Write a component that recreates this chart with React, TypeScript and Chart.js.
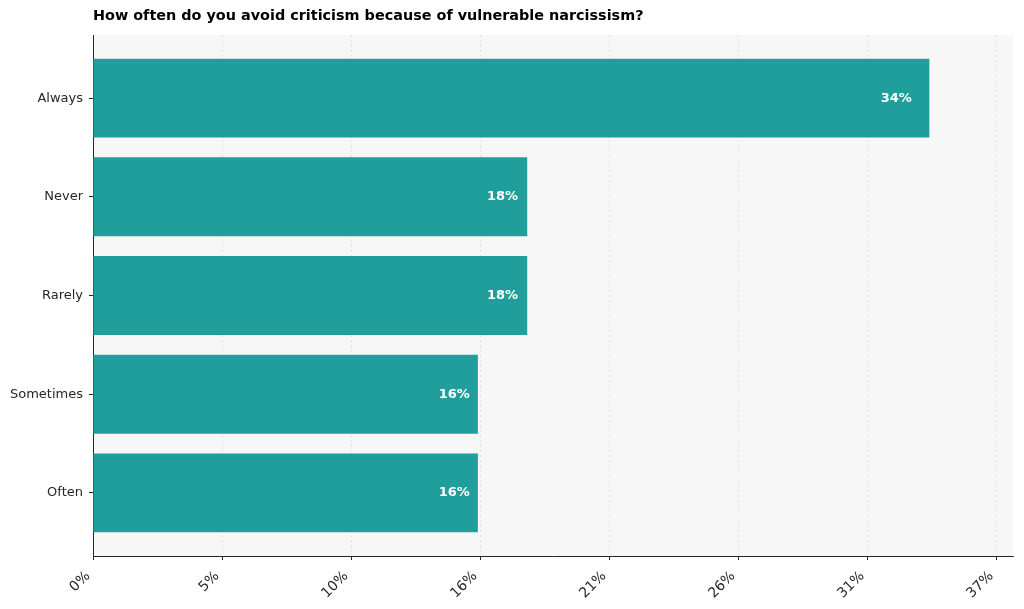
import React, {useEffect, useRef} from 'react'
import {Chart, registerables} from 'chart.js'

Chart.register(...registerables)

const title = 'How often do you avoid criticism because of vulnerable narcissism?'
const categories = ['Always', 'Never', 'Rarely', 'Sometimes', 'Often']
const shares = [33.9, 17.6, 17.6, 15.6, 15.6]
const tickCount = 8

const font = 'DejaVu Sans'
const barColor = '#1f9e9b'

const maxShare = Math.max(...shares)
const tickStep = (maxShare * 1.08) / (tickCount - 1)

const plotBackground = {
  id: 'plotBackground',
  beforeDraw(chart: any) {
    const {ctx, chartArea} = chart
    ctx.save()
    ctx.fillStyle = '#f7f7f7'
    ctx.fillRect(chartArea.left, chartArea.top, chartArea.right - chartArea.left, chartArea.bottom - chartArea.top)
    ctx.restore()
  },
}

const headerAndLabels = {
  id: 'headerAndLabels',
  afterDraw(chart: any) {
    const {ctx, chartArea, scales} = chart
    ctx.save()
    ctx.fillStyle = '#000'
    ctx.font = `bold 14.4px "${font}"`
    ctx.textAlign = 'left'
    ctx.textBaseline = 'middle'
    ctx.fillText(title, chartArea.left, 16)

    // value labels inside the bar ends
    ctx.fillStyle = '#fff'
    ctx.font = `bold 13px "${font}"`
    ctx.textAlign = 'right'
    shares.forEach((v, i) => {
      const x = scales.x.getPixelForValue(v * 0.979)
      const y = scales.y.getPixelForValue(i)
      ctx.fillText(`${Math.round(v)}%`, x, y)
    })
    ctx.restore()
  },
}

const App: React.FC = () => {
  const chartRef = useRef<HTMLCanvasElement | null>(null)

  useEffect(() => {
    if (!chartRef.current) {
      return
    }

    const chart = new Chart(chartRef.current, {
      type: 'bar',
      data: {
        datasets: [
          {
            data: shares.map((v, i) => ({x: v, y: i})),
            backgroundColor: barColor,
            borderWidth: 0,
            categoryPercentage: 1,
            barPercentage: 0.8,
          },
        ],
      },
      options: {
        indexAxis: 'y',
        animation: false,
        responsive: true,
        maintainAspectRatio: false,
        layout: {padding: {top: 35, right: 11, left: 0, bottom: 0}},
        plugins: {
          legend: {display: false},
          title: {display: false},
          tooltip: {enabled: false},
        },
        scales: {
          x: {
            type: 'linear',
            position: 'bottom',
            min: 0,
            max: maxShare * 1.1,
            afterBuildTicks: (scale: any) => {
              scale.ticks = Array.from({length: tickCount}, (_, i) => ({value: i * tickStep}))
            },
            afterFit: (scale: any) => {
              scale.height = 53
            },
            ticks: {
              maxRotation: 45,
              minRotation: 45,
              padding: 8,
              labelOffset: -5,
              color: '#262626',
              font: {family: font, size: 14},
              callback: (v: any) => `${Math.round(Number(v))}%`,
            },
            grid: {
              color: 'rgba(0,0,0,0.11)',
              lineWidth: 0.8,
              tickColor: '#262626',
              tickLength: 4,
              tickWidth: 1,
            },
            border: {display: true, color: '#262626', width: 1, dash: [2, 3]},
          },
          y: {
            type: 'linear',
            offset: false,
            min: -0.64,
            max: categories.length - 1 + 0.64,
            reverse: true,
            afterBuildTicks: (scale: any) => {
              scale.ticks = categories.map((_, i) => ({value: i}))
            },
            afterFit: (scale: any) => {
              scale.width = 93
            },
            ticks: {
              padding: 6,
              color: '#262626',
              font: {family: font, size: 13},
              callback: (v: any) => categories[Number(v)] ?? '',
            },
            grid: {
              offset: false,
              drawOnChartArea: false,
              tickColor: '#262626',
              tickLength: 4,
              tickWidth: 1,
            },
            border: {display: true, color: '#262626', width: 1},
          },
        },
      },
      plugins: [plotBackground, headerAndLabels],
    })

    return () => {
      chart.destroy()
    }
  }, [])

  return (
    <div style={{position: 'fixed', left: 0, top: 0, width: '1024px', height: '609px', background: '#fff'}}>
      <canvas ref={chartRef}></canvas>
    </div>
  )
}

export default App
